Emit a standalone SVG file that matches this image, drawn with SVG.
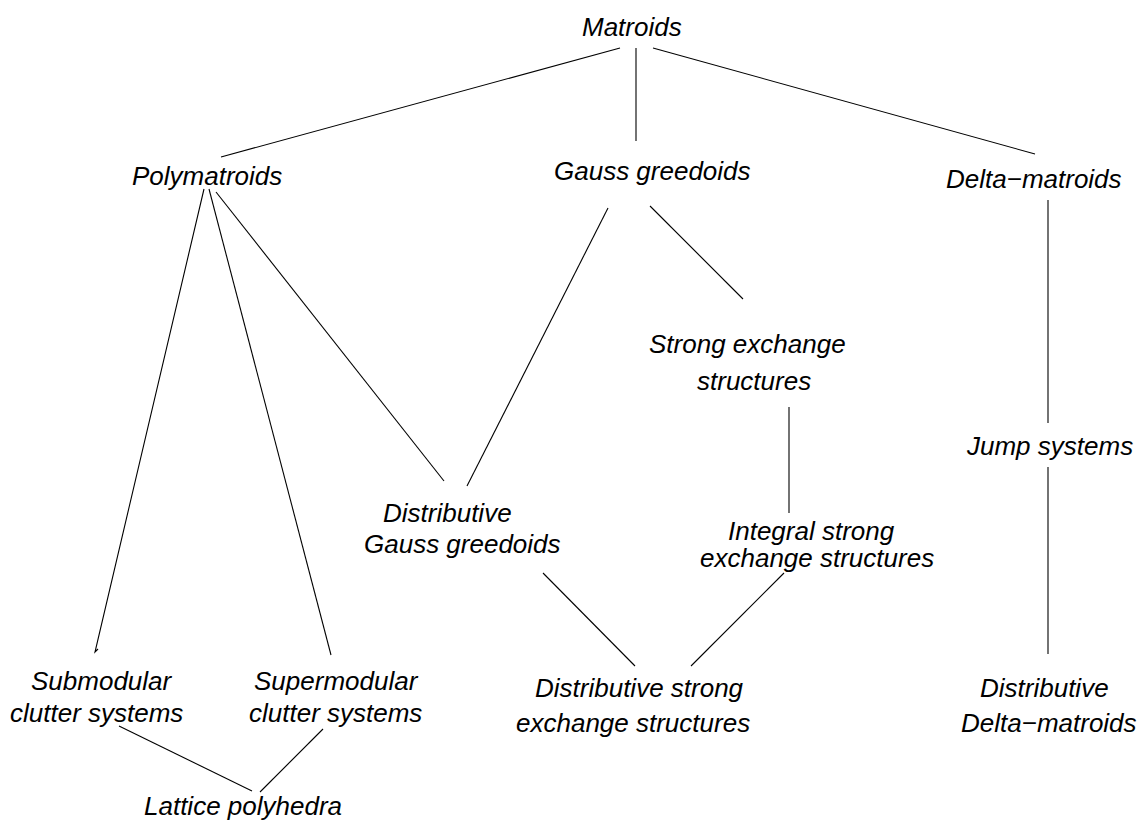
<svg xmlns="http://www.w3.org/2000/svg" width="1143" height="821" viewBox="0 0 1143 821">
<style>
text{font-family:"Liberation Sans",Arial,sans-serif;font-size:26px;font-style:italic;fill:#000}
.c line,.c path{stroke:#000;stroke-width:1.1;fill:none}
</style>
<rect width="1143" height="821" fill="#fff"/>
<g class="c" id="connectors">
<line x1="620" y1="48" x2="221" y2="157"/>
<line x1="636" y1="48" x2="636" y2="141"/>
<line x1="653" y1="48" x2="1035" y2="154"/>
<path d="M204 189 L95 652 L98 649"/>
<line x1="209" y1="189" x2="331" y2="655"/>
<line x1="216" y1="192" x2="444" y2="481"/>
<line x1="608" y1="208" x2="467" y2="486"/>
<line x1="650" y1="206" x2="743" y2="299"/>
<line x1="789" y1="407" x2="789" y2="513"/>
<line x1="1048" y1="200" x2="1048" y2="423"/>
<line x1="1048" y1="467" x2="1048" y2="654"/>
<line x1="543" y1="573" x2="635" y2="666"/>
<line x1="784" y1="573" x2="691" y2="666"/>
<line x1="119" y1="726" x2="252" y2="791"/>
<line x1="323" y1="729" x2="260" y2="792"/>
</g>
<g id="matroids"><text x="582" y="36">Matroids</text></g>
<g id="polymatroids"><text x="132" y="185">Polymatroids</text></g>
<g id="gauss-greedoids"><text x="554" y="180">Gauss greedoids</text></g>
<g id="delta-matroids"><text x="946" y="188">Delta−matroids</text></g>
<g id="strong-exchange"><text x="649" y="353">Strong exchange</text><text x="697" y="390">structures</text></g>
<g id="jump-systems"><text x="967" y="455">Jump systems</text></g>
<g id="dist-gauss"><text x="383" y="522">Distributive</text><text x="364" y="553">Gauss greedoids</text></g>
<g id="integral-strong"><text x="728" y="540">Integral strong</text><text x="700" y="567">exchange structures</text></g>
<g id="submodular"><text x="31" y="690">Submodular</text><text x="10" y="722">clutter systems</text></g>
<g id="supermodular"><text x="254" y="690">Supermodular</text><text x="249" y="722">clutter systems</text></g>
<g id="dist-strong"><text x="535" y="697">Distributive strong</text><text x="516" y="732">exchange structures</text></g>
<g id="dist-delta"><text x="980" y="697">Distributive</text><text x="961" y="732">Delta−matroids</text></g>
<g id="lattice"><text x="144" y="815">Lattice polyhedra</text></g>
</svg>
